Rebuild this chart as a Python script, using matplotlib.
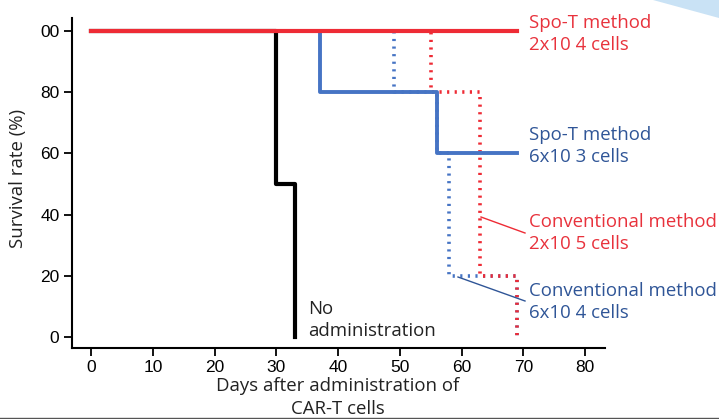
import matplotlib
matplotlib.use('Agg')
import matplotlib.pyplot as plt
from matplotlib.patches import Polygon
from matplotlib.lines import Line2D

# survival curves (days, % survival), drawn as post-steps
none_days = [0, 30, 33]
none_surv = [100, 50, 0]

spo4_days = [0, 69]
spo4_surv = [100, 100]

spo3_days = [0, 37, 56, 69]
spo3_surv = [100, 80, 60, 60]

conv4_days = [0, 49, 56, 58, 69]
conv4_surv = [100, 80, 60, 20, 0]

conv5_days = [0, 55, 63, 69]
conv5_surv = [100, 80, 20, 0]

xticks = [0, 10, 20, 30, 40, 50, 60, 70, 80]
yticks = [0, 20, 40, 60, 80, 100]
ytick_labels = ['0', '20', '40', '60', '80', '00']

RED = '#ee2b35'
BLUE = '#4674c4'
RED_TXT = '#e8323c'
BLUE_TXT = '#2f5597'
TXT_FONT = ['Open Sans', 'DejaVu Sans']
FS = 13.4

fig = plt.figure(figsize=(7.19, 4.19), dpi=100)
ax = fig.add_axes([0.1001, 0.1695, 0.7413, 0.7876])

dot = (0, (0.6, 1.5))
ax.step(none_days, none_surv, where='post', color='black', lw=3)
ax.step(conv4_days, conv4_surv, where='post', color=BLUE, lw=2.6, ls=dot)
ax.step(conv5_days, conv5_surv, where='post', color=RED, lw=2.6, ls=dot)
ax.step(spo3_days, spo3_surv, where='post', color=BLUE, lw=2.8)
ax.step(spo4_days, spo4_surv, where='post', color=RED, lw=3)

ax.set_xlim(-3.1, 83.2)
ax.set_ylim(-3.6, 104.2)
ax.set_xticks(xticks)
ax.set_yticks(yticks)
ax.set_yticklabels(ytick_labels)
for s in ['top', 'right']:
    ax.spines[s].set_visible(False)
for s in ['left', 'bottom']:
    ax.spines[s].set_linewidth(1.5)
ax.tick_params(direction='out', length=6, width=1.3, labelsize=12.5, pad=3)
for lab in ax.get_xticklabels() + ax.get_yticklabels():
    lab.set_family('Liberation Sans')

fig.text(338 / 719, 1 - 377 / 419, 'Days after administration of\nCAR-T cells',
         fontsize=FS, family=TXT_FONT, ha='center', va='top', linespacing=1.35,
         color='#222222')
fig.text(18 / 719, 1 - 178 / 419, 'Survival rate (%)', fontsize=FS, family=TXT_FONT,
         rotation=90, ha='center', va='center', color='#222222')

# labels
def lab(x, y, txt, c):
    fig.text(x / 719, 1 - y / 419, txt, color=c, fontsize=FS, family=TXT_FONT,
             va='center', ha='left', linespacing=1.35)

lab(529, 34, 'Spo-T method\n2x10 4 cells', RED_TXT)
lab(529, 146, 'Spo-T method\n6x10 3 cells', BLUE_TXT)
lab(529, 233, 'Conventional method\n2x10 5 cells', RED_TXT)
lab(529, 302, 'Conventional method\n6x10 4 cells', BLUE_TXT)
fig.text(308 / 719, 1 - 320 / 419, 'No\nadministration', color='#222222',
         fontsize=FS, family=TXT_FONT, va='center', ha='left', linespacing=1.35)

fig.add_artist(Line2D([481 / 719, 525 / 719], [1 - 217 / 419, 1 - 233 / 419],
                      color=RED, lw=1))
fig.add_artist(Line2D([458 / 719, 525 / 719], [1 - 277 / 419, 1 - 301 / 419],
                      color=BLUE_TXT, lw=1))

# decoration in the corner and bottom rule
fig.patches.append(Polygon([(653 / 719, 1), (1, 1), (1, 1 - 18 / 419)],
                           closed=True, transform=fig.transFigure,
                           facecolor='#c9e2f5', edgecolor='none'))
fig.add_artist(Line2D([0, 1], [1 - 418 / 419] * 2, color='#555555', lw=1))

fig.savefig('out.png', dpi=100)
